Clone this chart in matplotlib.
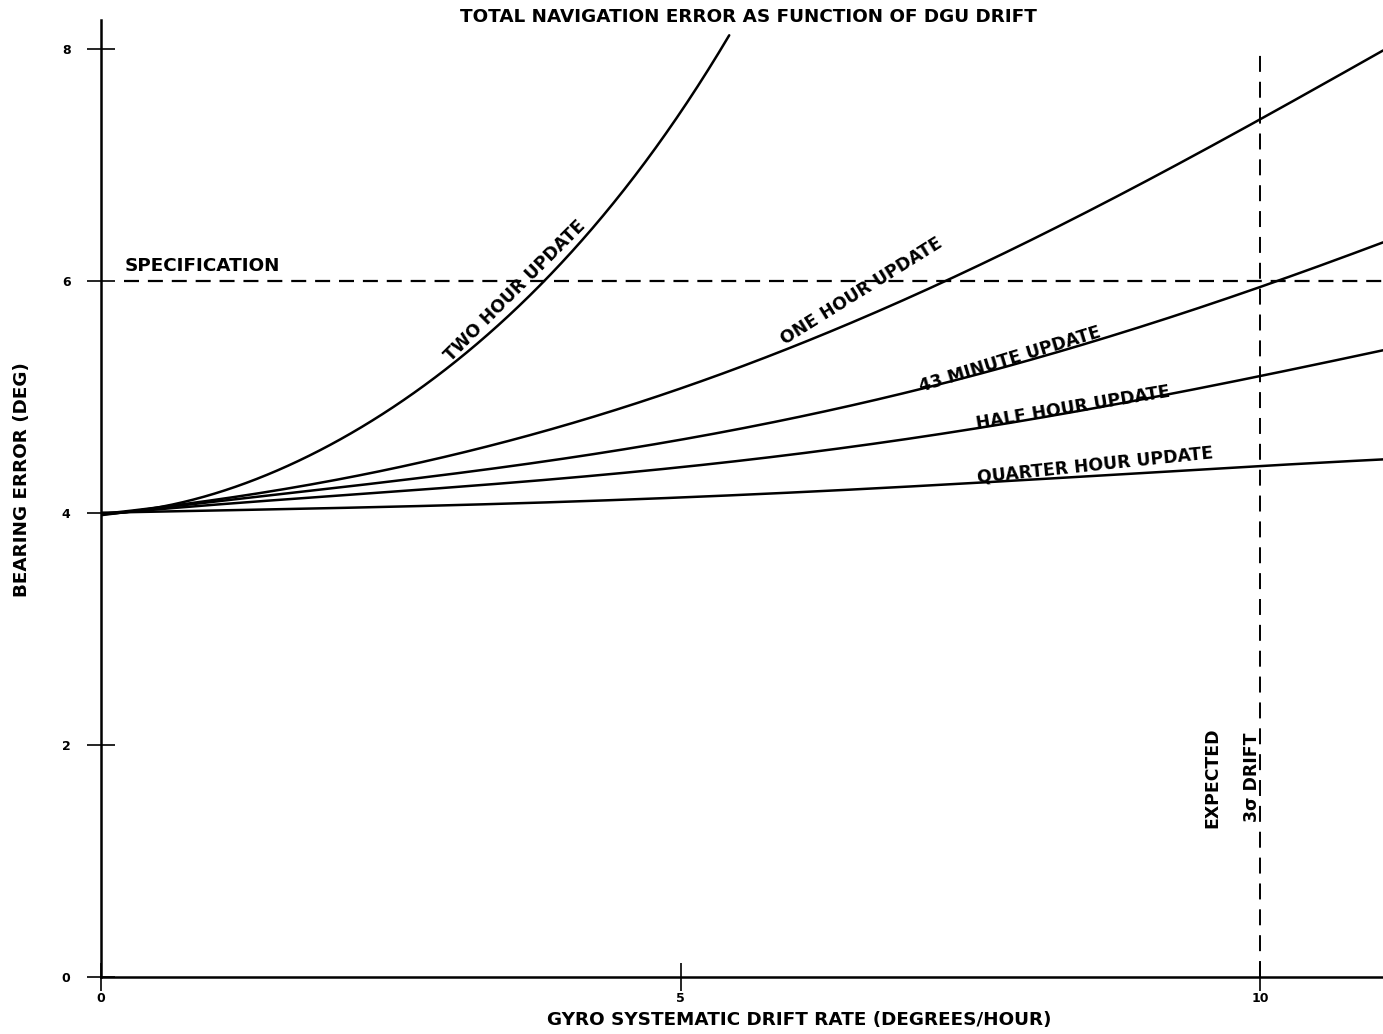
import matplotlib
matplotlib.use("Agg")
import matplotlib.pyplot as plt
import numpy as np

plt.rcParams['font.family'] = ['DejaVu Sans']
plt.rcParams['font.weight'] = 'bold'

# Data (x: drift deg/hr, y: bearing error deg)
two_hour_x = [0.0, 0.5, 1.15, 1.80, 2.46, 3.07, 3.79, 4.23, 4.81, 5.42]
two_hour_y = [4.0, 4.04, 4.21, 4.50, 4.92, 5.28, 5.97, 6.40, 7.24, 8.10]

one_hour_x = [0.0, 0.5, 1.54, 2.68, 3.84, 5.0, 6.03, 7.20, 8.55, 10.03, 11.06]
one_hour_y = [4.0, 4.03, 4.21, 4.43, 4.71, 5.05, 5.46, 5.97, 6.64, 7.38, 8.00]

min43_x = [0.0, 0.5, 1.54, 2.68, 4.23, 5.17, 6.03, 6.94, 8.55, 10.02, 11.06]
min43_y = [4.0, 4.02, 4.15, 4.31, 4.53, 4.64, 4.82, 5.04, 5.48, 5.96, 6.33]

half_hour_x = [0.0, 0.5, 1.54, 2.68, 4.23, 5.17, 6.03, 7.58, 10.02, 11.06]
half_hour_y = [4.0, 4.02, 4.10, 4.21, 4.34, 4.40, 4.50, 4.74, 5.19, 5.40]

quarter_hour_x = [0.0, 1.54, 3.84, 5.17, 6.03, 7.58, 10.02, 11.06]
quarter_hour_y = [4.0, 4.04, 4.09, 4.13, 4.18, 4.28, 4.39, 4.47]

specification = 6.0
expected_drift = 10.0

x_ticks = [0, 5, 10]
x_tick_labels = ['0', '5', '10']
y_ticks = [0, 2, 4, 6, 8]
y_tick_labels = ['0', '2', '4', '6', '8']

fig = plt.figure(figsize=(13.83, 10.34), dpi=100)
ax = fig.add_axes([0.073, 0.0551, 0.927, 0.9255])
ax.set_xlim(0, 11.06)
ax.set_ylim(0, 8.25)

for xs, ys in [(two_hour_x, two_hour_y), (one_hour_x, one_hour_y),
               (min43_x, min43_y), (half_hour_x, half_hour_y),
               (quarter_hour_x, quarter_hour_y)]:
    xs_f = np.linspace(xs[0], xs[-1], 300)
    coeffs = np.polyfit(xs, ys, 4)
    ys_f = np.polyval(coeffs, xs_f)
    ax.plot(xs_f, ys_f, color='black', lw=1.8, solid_capstyle='round')

ax.axhline(specification, xmin=0.018, xmax=1.0, color='black', lw=1.6,
           dashes=(6.75, 4))
ax.plot([expected_drift, expected_drift], [0, 8.0], color='black', lw=1.4,
        dashes=(8.2, 5.1))

for s in ['top', 'right']:
    ax.spines[s].set_visible(False)
ax.spines['left'].set_linewidth(1.8)
ax.spines['bottom'].set_linewidth(1.8)

ax.set_xticks(x_ticks)
ax.set_xticklabels(x_tick_labels, fontsize=9)
ax.set_yticks(y_ticks)
ax.set_yticklabels(y_tick_labels, fontsize=9)
ax.tick_params(direction='inout', length=20, width=1.2)
ax.tick_params(axis='x', pad=1)
ax.tick_params(axis='y', pad=12)

fs = 13.2
cfs = 12.4
ax.set_title('TOTAL NAVIGATION ERROR AS FUNCTION OF DGU DRIFT', fontsize=fs,
             fontweight='bold', pad=0, x=0.505, y=1.003,
             verticalalignment='center')
ax.set_xlabel('GYRO SYSTEMATIC DRIFT RATE (DEGREES/HOUR)', fontsize=fs,
              fontweight='bold', labelpad=4, x=0.545)
ax.set_ylabel('BEARING ERROR (DEG)', fontsize=fs, fontweight='bold',
              labelpad=22, y=0.52)

ax.text(0.2, 6.05, 'SPECIFICATION', fontsize=fs, ha='left', va='bottom')
ax.text(3.57, 5.92, 'TWO HOUR UPDATE', fontsize=cfs, rotation=45,
        ha='center', va='center', rotation_mode='anchor')
ax.text(6.56, 5.91, 'ONE HOUR UPDATE', fontsize=cfs, rotation=32,
        ha='center', va='center', rotation_mode='anchor')
ax.text(7.84, 5.32, '43 MINUTE UPDATE', fontsize=cfs, rotation=17,
        ha='center', va='center', rotation_mode='anchor')
ax.text(8.39, 4.91, 'HALF HOUR UPDATE', fontsize=cfs, rotation=9.5,
        ha='center', va='center', rotation_mode='anchor')
ax.text(8.58, 4.41, 'QUARTER HOUR UPDATE', fontsize=cfs, rotation=6,
        ha='center', va='center', rotation_mode='anchor')
ax.text(9.59, 1.72, 'EXPECTED', fontsize=cfs, rotation=90,
        ha='center', va='center')
ax.text(9.93, 1.72, '3σ DRIFT', fontsize=cfs, rotation=90,
        ha='center', va='center')

fig.savefig('out.png', dpi=100)
